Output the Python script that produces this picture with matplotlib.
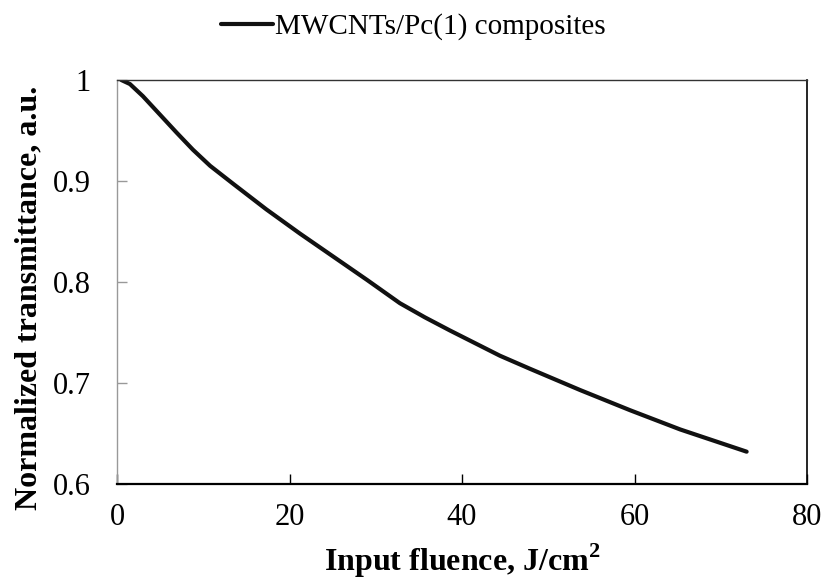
import matplotlib
matplotlib.use('Agg')
import matplotlib.pyplot as plt

# values
fluence = [0.5, 1.5, 3.0, 6.9, 8.8, 10.8, 13.5, 17.3, 21.2, 25.1, 29.0, 32.8, 35.7, 38.6, 44.4, 47.9, 53.7, 59.5, 65.3, 73.0]
transmittance = [1.0, 0.996, 0.984, 0.948, 0.931, 0.915, 0.897, 0.872, 0.848, 0.825, 0.802, 0.779, 0.765, 0.752, 0.727, 0.714, 0.693, 0.673, 0.654, 0.632]
series_name = 'MWCNTs/Pc(1) composites'
xticks = [0, 20, 40, 60, 80]
yticks = [0.6, 0.7, 0.8, 0.9, 1.0]
ytick_labels = ['0.6', '0.7', '0.8', '0.9', '1']

plt.rcParams['font.family'] = ['Liberation Serif', 'DejaVu Serif']
plt.rcParams['mathtext.fontset'] = 'custom'
plt.rcParams['mathtext.rm'] = 'Liberation Serif'
plt.rcParams['mathtext.bf'] = 'Liberation Serif:bold'

fig = plt.figure(figsize=(8.26, 5.82), dpi=100)
ax = fig.add_axes([117/826, 1 - 484/582, (807 - 117)/826, (484 - 80)/582])

ax.plot(fluence, transmittance, color='#111111', lw=3, solid_capstyle='round',
        solid_joinstyle='round', label=series_name)

ax.set_xlim(0, 80)
ax.set_ylim(0.6, 1.0)
ax.set_xticks(xticks)
ax.set_yticks(yticks)
ax.set_yticklabels(ytick_labels)

ax.tick_params(axis='x', direction='in', length=7, width=1, color='black',
               labelsize=22, pad=14)
ax.tick_params(axis='y', direction='in', length=7, width=1, color='#999999',
               labelsize=22, pad=19)

ax.spines['left'].set_color('#999999')
ax.spines['left'].set_linewidth(1)
ax.spines['top'].set_color('#333333')
ax.spines['top'].set_linewidth(1)
ax.spines['right'].set_color('black')
ax.spines['right'].set_linewidth(1.2)
ax.spines['bottom'].set_color('black')
ax.spines['bottom'].set_linewidth(1.6)

ax.set_xlabel(r'Input fluence, J/cm$^\mathbf{2}$', fontsize=23, fontweight='bold')
ax.xaxis.set_label_coords(0.5, -0.142)
ax.set_ylabel('Normalized transmittance, a.u.', fontsize=23, fontweight='bold')
ax.yaxis.set_label_coords(-0.107, 0.46)

fig.legend(loc='center', bbox_to_anchor=(0.5, 1 - 27/582), frameon=False,
           fontsize=21, handlelength=1.8, handletextpad=0.05, borderaxespad=0)

fig.savefig('out.png', dpi=100)
